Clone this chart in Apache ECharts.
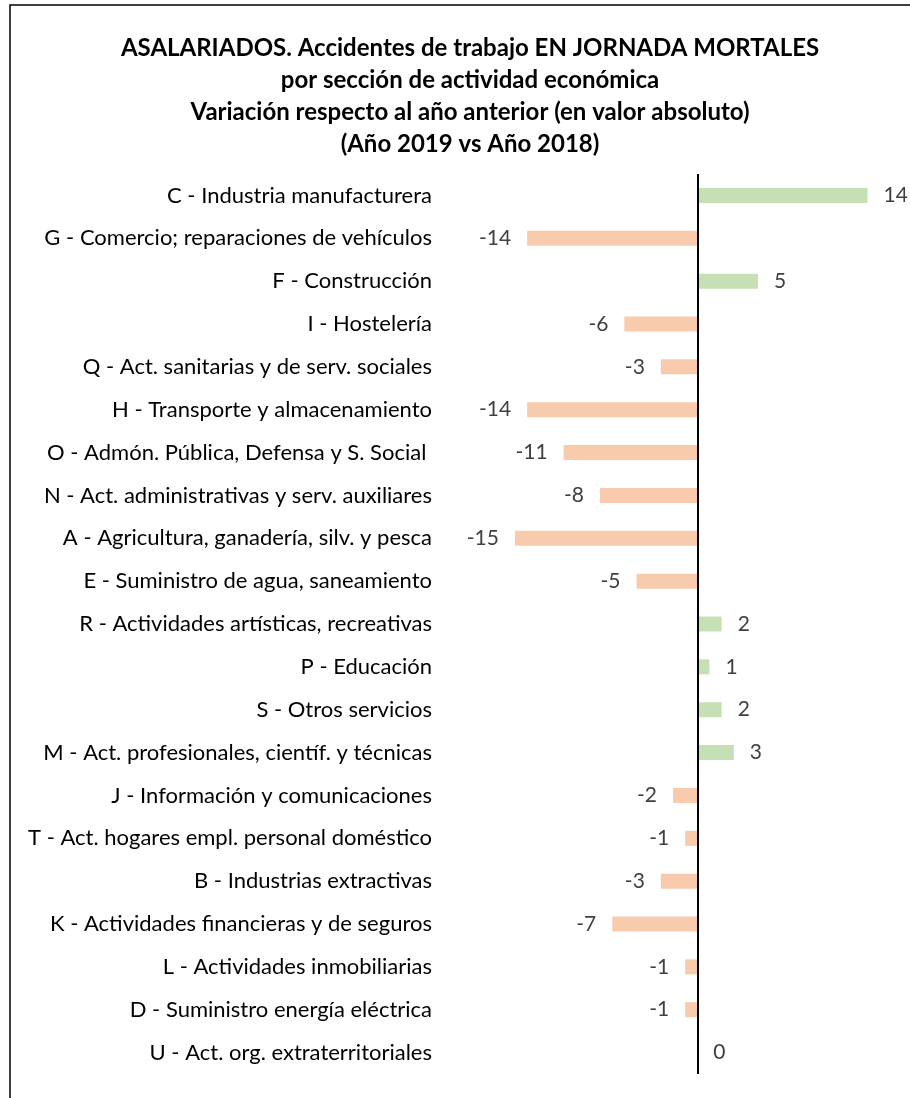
<!DOCTYPE html>
<html>
<head>
<meta charset="utf-8">
<script src="https://cdn.jsdelivr.net/npm/echarts@6/dist/echarts.min.js"></script>
<style>
  html, body { margin: 0; padding: 0; background: #fff; }
  #main { width: 910px; height: 1098px; }
</style>
</head>
<body>
<div id="main"></div>
<script>
var categories = [
  "C - Industria manufacturera",
  "G - Comercio; reparaciones de vehículos",
  "F - Construcción",
  "I - Hostelería",
  "Q - Act. sanitarias y de serv. sociales",
  "H - Transporte y almacenamiento",
  "O - Admón. Pública, Defensa y S. Social ",
  "N - Act. administrativas y serv. auxiliares",
  "A - Agricultura, ganadería, silv. y pesca",
  "E - Suministro de agua, saneamiento",
  "R - Actividades artísticas, recreativas",
  "P - Educación",
  "S - Otros servicios",
  "M - Act. profesionales, científ. y técnicas",
  "J - Información y comunicaciones",
  "T - Act. hogares empl. personal doméstico",
  "B - Industrias extractivas",
  "K - Actividades financieras y de seguros",
  "L - Actividades inmobiliarias",
  "D - Suministro energía eléctrica",
  "U - Act. org. extraterritoriales"
];
var variation = [14, -14, 5, -6, -3, -14, -11, -8, -15, -5, 2, 1, 2, 3, -2, -1, -3, -7, -1, -1, 0];
var titleLines = [
  "ASALARIADOS. Accidentes de trabajo EN JORNADA MORTALES",
  "por sección de actividad económica",
  "Variación respecto al año anterior (en valor absoluto)",
  "(Año 2019 vs Año 2018)"
];

var positiveColor = "#c5e0b4";
var negativeColor = "#f8cbad";
var fontFamily = "Lato, 'Open Sans', sans-serif";

var chart = echarts.init(document.getElementById("main"));

var barData = variation.map(function (v) {
  return {
    value: v,
    itemStyle: { color: v >= 0 ? positiveColor : negativeColor },
    label: { position: v >= 0 ? "right" : "left" }
  };
});

chart.setOption({
  backgroundColor: "#fff",
  animation: false,
  title: {
    text: titleLines.join("\n"),
    left: 465,
    textAlign: "center",
    top: 27,
    textStyle: {
      fontFamily: fontFamily,
      fontWeight: "bold",
      fontSize: 24,
      lineHeight: 32,
      color: "#000"
    }
  },
  graphic: [{
    type: "rect",
    shape: { x: 10, y: 5, width: 920, height: 1110 },
    style: { fill: "none", stroke: "#000", lineWidth: 1.5 },
    silent: true
  }],
  grid: {
    left: 442,
    width: 462,
    top: 174,
    height: 900
  },
  xAxis: {
    type: "value",
    min: -21,
    max: 17,
    show: false
  },
  yAxis: {
    type: "category",
    data: categories,
    inverse: true,
    axisLine: { show: false },
    axisTick: { show: false },
    splitLine: { show: false },
    axisLabel: {
      margin: 10,
      fontFamily: fontFamily,
      fontSize: 22,
      color: "#000"
    }
  },
  series: [{
    type: "bar",
    data: barData,
    barWidth: 15,
    label: {
      show: true,
      distance: 16,
      fontFamily: fontFamily,
      fontSize: 21,
      color: "#404040"
    },
    markLine: {
      silent: true,
      symbol: "none",
      label: { show: false },
      lineStyle: { color: "#000", type: "solid", width: 2 },
      data: [{ xAxis: 0 }]
    }
  }]
});
</script>
</body>
</html>
